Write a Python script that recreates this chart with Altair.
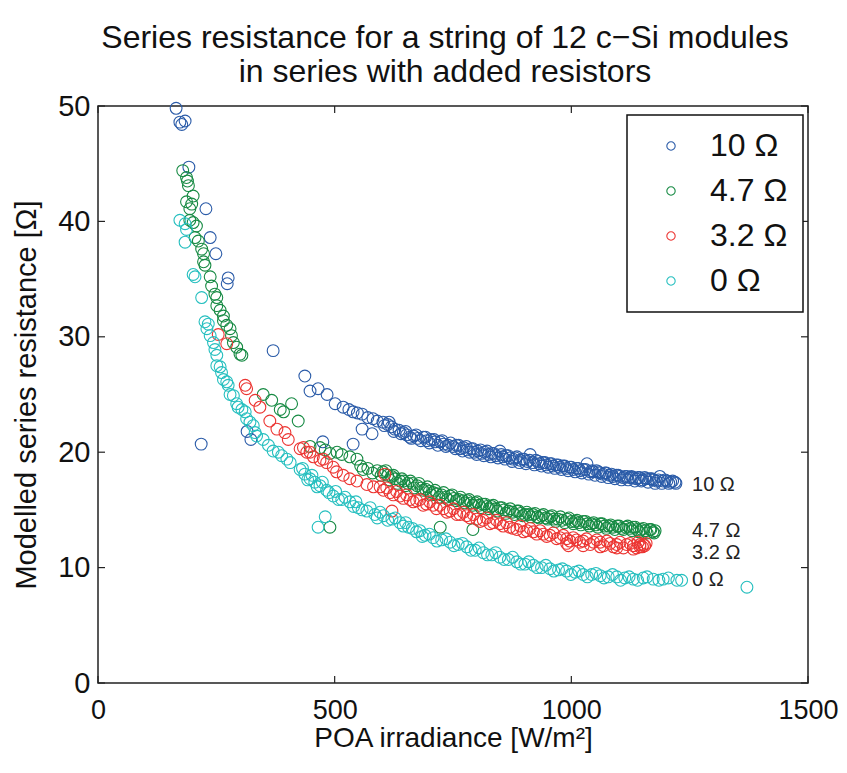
import altair as alt
import pandas as pd

series_names = ["10 Ω", "4.7 Ω", "3.2 Ω", "0 Ω"]
series_colors = ["#2a5ba8", "#168a43", "#ec3532", "#25bfbf"]

x_ticks = [0, 500, 1000, 1500]
y_ticks = [0, 10, 20, 30, 40, 50]

blue_pts = [
    [165, 49.8], [173, 48.6], [177, 48.4], [184, 48.7], [192, 44.7], [228, 41.1], [237, 38.6],
    [249, 37.2], [275, 35.1], [273, 34.6], [218, 20.7], [315, 21.8], [323, 21.1], [370, 28.8],
    [437, 26.6], [448, 25.3], [465, 25.5], [484, 25.0], [475, 20.9], [501, 24.2], [518, 23.9],
    [530, 23.7], [539, 23.5], [539, 20.7], [548, 23.4], [558, 23.3], [558, 22.0], [570, 23.0],
    [579, 21.6], [581, 22.9], [590, 22.7], [602, 22.6], [612, 22.4], [620, 22.2], [627, 22.0],
    [636, 21.9], [645, 21.7], [652, 21.5], [659, 21.3], [667, 21.4], [675, 21.2], [687, 21.3],
    [695, 21.0], [703, 21.1], [712, 20.9], [723, 20.9], [730, 20.7], [740, 20.6], [750, 20.5],
    [757, 20.6], [765, 20.3], [772, 20.4], [780, 20.2], [788, 20.3], [795, 20.0], [802, 20.1],
    [810, 19.9], [817, 20.0], [825, 19.8], [832, 19.9], [840, 19.7], [849, 20.1], [855, 19.6],
    [862, 19.7], [870, 19.5], [877, 19.4], [885, 19.6], [892, 19.3], [900, 19.4], [907, 19.2],
    [913, 19.8], [919, 19.1], [925, 19.3], [932, 19.0], [940, 19.1], [947, 18.9], [955, 19.0],
    [961, 18.8], [968, 18.9], [975, 18.7], [982, 18.8], [990, 18.6], [997, 18.7], [1004, 18.5],
    [1011, 18.6], [1018, 18.4], [1025, 18.5], [1033, 19.0], [1040, 18.3], [1046, 18.3],
    [1053, 18.4], [1060, 18.2], [1067, 18.1], [1074, 18.2], [1081, 18.0], [1088, 17.9],
    [1095, 18.0], [1102, 17.9], [1110, 17.8], [1117, 17.9], [1124, 17.8], [1130, 17.8],
    [1137, 17.7], [1144, 17.8], [1151, 17.6], [1158, 17.7], [1166, 17.7], [1173, 17.6],
    [1180, 17.5], [1187, 17.9], [1194, 17.5], [1202, 17.5], [1210, 17.4], [1219, 17.4],
    [605, 22.3], [615, 22.6], [625, 21.8], [640, 21.6], [650, 21.8], [662, 21.2], [672, 21.5],
    [682, 21.0], [692, 21.3], [700, 20.8], [710, 21.1], [718, 20.6], [727, 21.0], [735, 20.5],
    [745, 20.8], [755, 20.3], [762, 20.6], [770, 20.1], [778, 20.5], [785, 20.0], [792, 20.3],
    [800, 19.8], [808, 20.2], [815, 19.7], [822, 20.1], [830, 19.6], [836, 19.9], [845, 19.5],
    [852, 19.8], [860, 19.4], [866, 19.7], [875, 19.2], [882, 19.5], [890, 19.1], [897, 19.4],
    [904, 19.0], [912, 19.3], [922, 18.9], [930, 19.2], [937, 18.8], [944, 19.1], [951, 18.7],
    [958, 19.0], [965, 18.6], [972, 18.9], [979, 18.5], [986, 18.8], [993, 18.4], [1000, 18.7],
    [1008, 18.3], [1015, 18.6], [1022, 18.2], [1030, 18.5], [1037, 18.1], [1044, 18.4],
    [1050, 18.0], [1057, 18.3], [1064, 17.9], [1071, 18.2], [1078, 17.8], [1085, 18.1],
    [1092, 17.7], [1099, 18.0], [1106, 17.6], [1113, 17.9], [1120, 17.6], [1127, 17.9],
    [1134, 17.5], [1141, 17.8], [1148, 17.5], [1155, 17.8], [1162, 17.4], [1170, 17.7],
    [1177, 17.3], [1184, 17.6], [1191, 17.3], [1198, 17.6], [1206, 17.3], [1214, 17.5], [1221, 17.3],
]

green_pts = [
    [179, 44.4], [187, 43.8], [189, 43.5], [191, 43.1], [201, 42.2], [187, 41.7], [198, 41.5],
    [194, 41.1], [194, 40.1], [201, 39.9], [208, 39.6], [205, 38.6], [212, 38.3], [219, 37.6],
    [223, 37.2], [223, 36.5], [226, 36.2], [237, 35.2], [240, 34.4], [247, 33.7], [251, 33.4],
    [251, 32.7], [258, 32.3], [265, 31.8], [265, 31.4], [272, 31.0], [279, 30.7], [282, 30.1],
    [286, 29.5], [293, 29.1], [300, 28.5], [304, 28.4], [349, 25.0], [367, 24.5], [385, 23.7],
    [392, 23.5], [409, 24.2], [423, 22.7], [448, 20.5], [469, 20.4], [480, 20.2], [490, 19.9],
    [505, 20.0], [515, 19.8], [532, 19.6], [547, 19.4], [555, 18.8], [560, 18.5], [570, 18.6],
    [580, 18.2], [590, 18.4], [602, 18.3], [612, 18.0], [620, 17.9], [628, 17.7], [638, 17.5],
    [646, 17.5], [655, 17.3], [664, 17.3], [674, 17.1], [683, 16.9], [692, 16.8], [700, 16.6],
    [708, 16.5], [716, 16.4], [726, 16.3], [735, 16.1], [744, 16.2], [752, 16.0], [762, 15.9],
    [771, 15.8], [780, 15.8], [788, 15.6], [797, 15.6], [805, 15.4], [813, 15.5], [822, 15.3],
    [831, 15.3], [840, 15.1], [849, 15.2], [858, 15.0], [867, 14.9], [876, 14.8], [885, 14.9],
    [893, 14.7], [902, 14.6], [910, 14.6], [919, 14.6], [928, 14.4], [937, 14.5], [946, 14.3],
    [955, 14.4], [963, 14.2], [972, 14.2], [981, 14.1], [991, 14.2], [1000, 14.0], [1008, 14.0],
    [1016, 13.9], [1025, 14.0], [1034, 13.8], [1043, 13.8], [1052, 13.7], [1061, 13.8],
    [1070, 13.6], [1079, 13.6], [1088, 13.5], [1097, 13.6], [1106, 13.4], [1115, 13.5],
    [1124, 13.4], [1130, 13.5], [1139, 13.3], [1148, 13.3], [1157, 13.2], [1166, 13.3],
    [1172, 13.1], [1177, 13.2], [723, 13.5], [792, 13.3], [490, 13.5],
    [598, 18.0], [608, 18.4], [616, 17.6], [624, 18.0], [633, 17.3], [642, 17.7], [650, 17.1],
    [660, 17.5], [668, 16.9], [678, 17.3], [687, 16.7], [696, 17.0], [704, 16.3], [712, 16.7],
    [721, 16.1], [730, 16.5], [739, 15.9], [748, 16.3], [757, 15.8], [766, 16.1], [775, 15.6],
    [784, 15.9], [792, 15.4], [801, 15.7], [809, 15.2], [818, 15.5], [826, 15.1], [835, 15.4],
    [844, 14.9], [853, 15.2], [862, 14.7], [871, 15.1], [880, 14.6], [889, 14.9], [897, 14.5],
    [906, 14.8], [914, 14.4], [923, 14.7], [932, 14.3], [941, 14.6], [950, 14.2], [959, 14.5],
    [967, 14.0], [977, 14.4], [986, 13.9], [995, 14.3], [1004, 13.8], [1012, 14.1], [1020, 13.7],
    [1030, 14.0], [1038, 13.6], [1047, 13.9], [1056, 13.5], [1065, 13.8], [1074, 13.4],
    [1083, 13.7], [1092, 13.3], [1101, 13.6], [1110, 13.3], [1119, 13.6], [1128, 13.2],
    [1135, 13.5], [1143, 13.1], [1152, 13.4], [1160, 13.0], [1168, 13.3], [1175, 13.0],
]

red_pts = [
    [254, 30.2], [272, 29.4], [311, 25.8], [314, 25.5], [332, 24.5], [342, 23.9], [363, 22.7],
    [378, 22.0], [395, 21.7], [402, 21.1], [427, 20.3], [434, 20.4], [441, 20.0], [448, 20.0],
    [455, 19.6], [469, 19.3], [476, 19.4], [483, 19.1], [497, 18.7], [504, 18.3], [518, 18.0],
    [532, 17.7], [547, 17.5], [568, 17.2], [582, 17.0], [603, 16.7], [606, 18.1], [617, 16.5],
    [638, 16.2], [659, 15.9], [673, 15.8], [694, 15.5], [708, 15.4], [730, 15.1], [744, 14.9],
    [765, 14.6], [779, 14.5], [800, 14.2], [814, 14.1], [835, 13.9], [849, 13.8], [870, 13.5],
    [885, 13.3], [906, 13.2], [920, 13.1], [941, 12.9], [955, 12.8], [976, 12.6], [990, 12.5],
    [1011, 12.4], [1025, 12.3], [1047, 12.2], [1061, 12.2], [1082, 12.1], [1096, 12.0],
    [1117, 12.0], [1131, 11.9], [1145, 12.0], [1152, 12.0], [1061, 11.8], [1096, 11.7],
    [1131, 11.6], [1145, 11.8], [1025, 11.9], [990, 12.1], [621, 14.9], [994, 11.9],
    [596, 17.0], [610, 16.9], [624, 16.3], [631, 16.6], [645, 16.0], [652, 16.3], [666, 15.7],
    [680, 15.9], [687, 15.4], [701, 15.7], [715, 15.1], [722, 15.4], [737, 14.8], [751, 15.1],
    [758, 14.6], [772, 14.8], [786, 14.3], [793, 14.6], [807, 14.0], [821, 14.3], [828, 13.8],
    [842, 14.1], [856, 13.6], [863, 13.9], [877, 13.4], [892, 13.6], [899, 13.1], [913, 13.4],
    [927, 12.9], [934, 13.2], [948, 12.7], [962, 13.0], [969, 12.5], [983, 12.8], [997, 12.3],
    [1004, 12.6], [1018, 12.2], [1032, 12.5], [1040, 12.0], [1054, 12.4], [1068, 11.9],
    [1075, 12.3], [1089, 11.8], [1103, 12.2], [1110, 11.7], [1124, 12.1], [1138, 11.7],
    [1141, 12.2], [1150, 11.8], [1155, 11.9], [1158, 12.1],
]

cyan_pts = [
    [173, 40.1], [184, 39.8], [187, 39.3], [184, 38.2], [201, 35.4], [205, 35.2], [219, 33.4],
    [226, 31.3], [233, 31.1], [230, 30.7], [237, 30.1], [244, 29.5], [247, 28.9], [251, 28.4],
    [251, 27.5], [258, 27.4], [261, 26.9], [265, 26.3], [272, 26.1], [275, 25.8], [279, 25.0],
    [286, 24.9], [293, 24.2], [296, 23.9], [304, 23.7], [311, 23.5], [314, 22.9], [321, 22.6],
    [328, 22.3], [332, 21.7], [335, 21.4], [349, 21.1], [360, 20.6], [370, 20.1], [381, 20.0],
    [388, 19.7], [399, 19.4], [406, 19.1], [427, 18.5], [437, 18.1], [448, 17.7], [458, 17.4],
    [469, 17.1], [483, 16.7], [497, 16.2], [515, 15.9], [532, 15.7], [550, 15.2], [568, 14.9],
    [585, 14.6], [603, 14.5], [621, 14.2], [638, 13.9], [656, 13.5], [673, 13.1], [691, 12.8],
    [708, 12.6], [726, 12.4], [744, 12.2], [761, 12.0], [779, 11.8], [797, 11.5], [814, 11.3],
    [832, 11.1], [849, 10.9], [867, 10.7], [885, 10.5], [902, 10.3], [920, 10.2], [937, 10.0],
    [955, 9.9], [973, 9.8], [990, 9.7], [1008, 9.6], [1025, 9.4], [1043, 9.4], [1061, 9.3],
    [1078, 9.2], [1096, 9.2], [1113, 9.1], [1131, 9.0], [1152, 9.1], [1173, 9.0], [1194, 9.0],
    [1223, 8.9], [1233, 8.9], [1371, 8.3], [465, 13.5], [480, 14.4],
    [432, 18.6], [443, 17.6], [452, 18.0], [463, 17.0], [474, 17.4], [488, 16.5], [502, 16.6],
    [508, 15.9], [522, 16.1], [540, 15.3], [545, 15.7], [558, 15.0], [575, 15.2], [590, 14.3],
    [596, 14.8], [612, 14.1], [628, 14.3], [645, 13.6], [650, 13.9], [664, 13.4], [680, 13.2],
    [685, 12.7], [700, 12.9], [716, 12.3], [735, 12.5], [752, 11.9], [770, 12.1], [788, 11.5],
    [805, 11.7], [823, 11.1], [840, 11.3], [858, 10.7], [876, 10.9], [893, 10.3], [910, 10.5],
    [928, 10.0], [946, 10.2], [963, 9.7], [981, 9.9], [999, 9.4], [1016, 9.7], [1034, 9.2],
    [1052, 9.5], [1069, 9.1], [1087, 9.4], [1104, 8.9], [1122, 9.2], [1140, 8.9], [1160, 9.2],
    [1185, 8.9], [1205, 9.1],
]

ann_text = ["10 Ω", "4.7 Ω", "3.2 Ω", "0 Ω"]
ann_x = [1255, 1255, 1255, 1255]
ann_y = [17.2, 13.2, 11.3, 8.9]

FONT = "Liberation Sans"
W, H = 710, 577
TICK = 7

rows = []
for name, pts in zip(series_names, [blue_pts, green_pts, red_pts, cyan_pts]):
    for x, y in pts:
        rows.append({"irr": x, "rs": y, "series": name})
df = pd.DataFrame(rows)
df["order_idx"] = range(len(df))

xscale = alt.Scale(domain=[0, 1500], nice=False, zero=False)
yscale = alt.Scale(domain=[0, 50], nice=False, zero=False)

x_axis = alt.Axis(values=x_ticks, title="POA irradiance [W/m²]", format="d",
                  labelPadding=14, titlePadding=1, labelFlush=False, labelFontSize=27,
                  titleFontSize=28)
y_axis = alt.Axis(values=y_ticks, title="Modelled series resistance [Ω]", format="d",
                  labelPadding=8, titlePadding=16, labelFlush=False)

points = alt.Chart(df).mark_point(
    shape="circle", filled=False, size=140, strokeWidth=1.1, opacity=1
).encode(
    x=alt.X("irr:Q", scale=xscale, axis=x_axis),
    y=alt.Y("rs:Q", scale=yscale, axis=y_axis),
    color=alt.Color("series:N", sort=series_names,
                    scale=alt.Scale(domain=series_names, range=series_colors),
                    legend=alt.Legend(title=None, orient="none", legendX=529, legendY=9,
                                      padding=15, rowPadding=13, symbolOffset=13,
                                      labelOffset=23, symbolSize=70, symbolStrokeWidth=1.1,
                                      symbolType="circle", labelFontSize=32, labelFont=FONT,
                                      labelColor="#111", strokeColor="#111", fillColor="white")),
    order=alt.Order("order_idx:Q"),
)

xt = pd.DataFrame({"t": x_ticks})
yt = pd.DataFrame({"t": y_ticks})
tick_style = dict(color="#222", strokeWidth=1.2)

bottom_ticks = alt.Chart(xt).mark_rule(**tick_style).encode(
    x=alt.X("t:Q", scale=xscale, axis=x_axis), y=alt.value(H), y2=alt.value(H - TICK))
top_ticks = alt.Chart(xt).mark_rule(**tick_style).encode(
    x=alt.X("t:Q", scale=xscale, axis=x_axis), y=alt.value(0), y2=alt.value(TICK))
left_ticks = alt.Chart(yt).mark_rule(**tick_style).encode(
    y=alt.Y("t:Q", scale=yscale, axis=y_axis), x=alt.value(0), x2=alt.value(TICK))
right_ticks = alt.Chart(yt).mark_rule(**tick_style).encode(
    y=alt.Y("t:Q", scale=yscale, axis=y_axis), x=alt.value(W), x2=alt.value(W - TICK))

ann_df = pd.DataFrame({"x": ann_x, "y": ann_y, "label": ann_text})
labels = alt.Chart(ann_df).mark_text(
    align="left", baseline="middle", fontSize=20, font=FONT, color="#222"
).encode(
    x=alt.X("x:Q", scale=xscale, axis=x_axis),
    y=alt.Y("y:Q", scale=yscale, axis=y_axis),
    text="label:N",
)

chart = alt.layer(points, bottom_ticks, top_ticks, left_ticks, right_ticks, labels).properties(
    width=W, height=H,
    title=alt.TitleParams(
        text=["Series resistance for a string of 12 c−Si modules", "in series with added resistors"],
        fontSize=32, font=FONT, fontWeight="normal", lineHeight=34, color="#111",
        anchor="middle", dx=-8, offset=3,
    ),
    autosize=alt.AutoSizeParams(type="none"),
    padding={"left": 90, "top": 98, "right": 31, "bottom": 80},
).configure_view(
    stroke="#222", strokeWidth=1.5
).configure_axis(
    grid=False, domain=False, ticks=False, tickSize=0,
    labelFont=FONT, labelFontSize=29, labelColor="#111",
    titleFont=FONT, titleFontSize=29, titleColor="#111", titleFontWeight="normal",
).configure_legend(
    strokeWidth=1.5
)

chart.save("out.html", embed_options={"renderer": "svg", "actions": False})
